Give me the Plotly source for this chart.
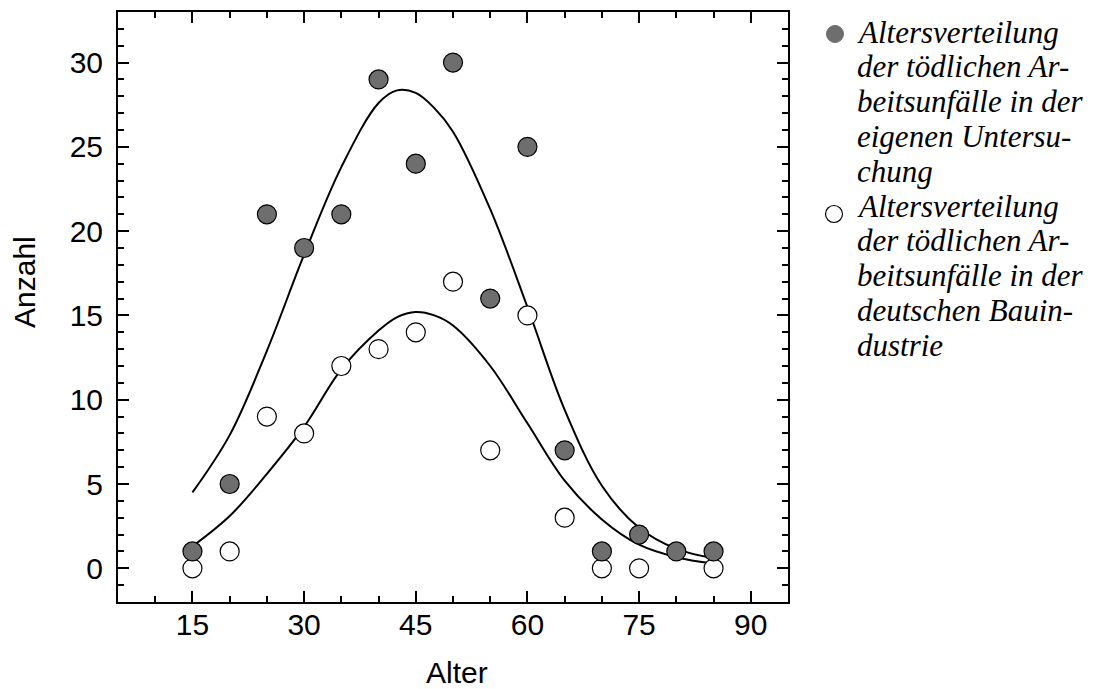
import plotly.graph_objects as go

# ---- data ----
ages = [15, 20, 25, 30, 35, 40, 45, 50, 55, 60, 65, 70, 75, 80, 85]
own_counts = [1, 5, 21, 19, 21, 29, 24, 30, 16, 25, 7, 1, 2, 1, 1]

ages_bau = [15, 20, 25, 30, 35, 40, 45, 50, 55, 60, 65, 70, 75, 85]
bau_counts = [0, 1, 9, 8, 12, 13, 14, 17, 7, 15, 3, 0, 0, 0]

fit_own_x = [15, 20, 25, 30, 35, 40, 42.5, 45, 47.5, 50, 55, 60, 65, 70, 75, 80, 85]
fit_own_y = [4.5, 7.9, 12.9, 18.6, 23.8, 27.6, 28.35, 28.2, 27.3, 25.9, 21.3, 15.5, 9.4, 4.9, 2.4, 1.15, 0.6]

fit_bau_x = [15, 20, 25, 30, 35, 40, 42.5, 45, 47.5, 50, 55, 60, 65, 70, 75, 80, 85]
fit_bau_y = [1.3, 3.1, 5.6, 8.4, 11.8, 14.1, 14.9, 15.2, 15.0, 14.4, 12.0, 8.6, 5.2, 2.9, 1.4, 0.66, 0.28]

legend_own = ["Altersverteilung", "der tödlichen Ar-", "beitsunfälle in der",
              "eigenen Untersu-", "chung"]
legend_bau = ["Altersverteilung", "der tödlichen Ar-", "beitsunfälle in der",
              "deutschen Bauin-", "dustrie"]

x_title = "Alter"
y_title = "Anzahl"

# ---- layout geometry (pixels) ----
W, H = 1098, 689
L, R, T, B = 118, 788, 12, 602
pw, ph = R - L, B - T

def px(xp):
    return (xp - L) / pw

def py(yp):
    return (B - yp) / ph

SANS = "Liberation Sans, Arial, sans-serif"
SERIF = "Liberation Serif, Times New Roman, serif"
FILL = "#6e6e6e"

fig = go.Figure()

fig.add_trace(go.Scatter(x=fit_own_x, y=fit_own_y, mode="lines", line_shape="spline",
                         line=dict(color="black", width=2), showlegend=False, hoverinfo="skip"))
fig.add_trace(go.Scatter(x=fit_bau_x, y=fit_bau_y, mode="lines", line_shape="spline",
                         line=dict(color="black", width=2), showlegend=False, hoverinfo="skip"))
fig.add_trace(go.Scatter(x=ages_bau, y=bau_counts, mode="markers",
                         name=" ".join(legend_bau),
                         marker=dict(symbol="circle", size=19, color="white",
                                     line=dict(color="black", width=1.2)),
                         showlegend=False, cliponaxis=False))
fig.add_trace(go.Scatter(x=ages, y=own_counts, mode="markers",
                         name=" ".join(legend_own),
                         marker=dict(symbol="circle", size=19, color=FILL,
                                     line=dict(color="black", width=1.2)),
                         showlegend=False, cliponaxis=False))

axis_common = dict(
    showline=True, linecolor="black", linewidth=2, mirror="ticks",
    ticks="inside", tickcolor="black", tickwidth=2, ticklen=11,
    showgrid=False, zeroline=False,
    tickfont=dict(family=SANS, size=30, color="black"),
)

fig.update_xaxes(range=[5, 95], tick0=0, dtick=15, ticklabelstandoff=-5,
                 minor=dict(dtick=5, ticks="inside", ticklen=6, tickwidth=2, tickcolor="black", showgrid=False),
                 **axis_common)
fig.update_yaxes(range=[-2, 33], tick0=0, dtick=5, ticklabelstandoff=7,
                 minor=dict(dtick=1, ticks="inside", ticklen=6, tickwidth=2, tickcolor="black", showgrid=False),
                 **axis_common)

annotations = []
# axis titles
annotations.append(dict(text=x_title, xref="paper", yref="paper", x=px(457), y=py(672),
                        xanchor="center", yanchor="middle", showarrow=False,
                        font=dict(family=SANS, size=30, color="black")))
annotations.append(dict(text=y_title, xref="paper", yref="paper", x=px(24), y=py(282),
                        xanchor="center", yanchor="middle", showarrow=False, textangle=-90,
                        font=dict(family=SANS, size=30, color="black")))

# legend text lines
line_step = 34.8
first_baseline = 42
for i, line in enumerate(legend_own + legend_bau):
    base = first_baseline + i * line_step
    annotations.append(dict(text=line, xref="paper", yref="paper", x=px(855), y=py(base - 10),
                            xanchor="left", yanchor="middle", showarrow=False,
                            font=dict(family=SERIF, size=31, color="black", style="italic")))

shapes = [
    dict(type="circle", xref="paper", yref="paper", xsizemode="pixel", ysizemode="pixel",
         xanchor=px(835), yanchor=py(34), x0=-8.5, x1=8.5, y0=-8.5, y1=8.5,
         fillcolor=FILL, line=dict(color=FILL, width=1)),
    dict(type="circle", xref="paper", yref="paper", xsizemode="pixel", ysizemode="pixel",
         xanchor=px(834), yanchor=py(214), x0=-8.5, x1=8.5, y0=-8.5, y1=8.5,
         fillcolor="white", line=dict(color="black", width=1.2)),
]

fig.update_layout(
    width=W, height=H,
    margin=dict(l=L, r=W - R, t=T, b=H - B, autoexpand=False),
    paper_bgcolor="white", plot_bgcolor="white",
    showlegend=False,
    annotations=annotations, shapes=shapes,
)

fig.write_html("out.html", config={"displayModeBar": False})
